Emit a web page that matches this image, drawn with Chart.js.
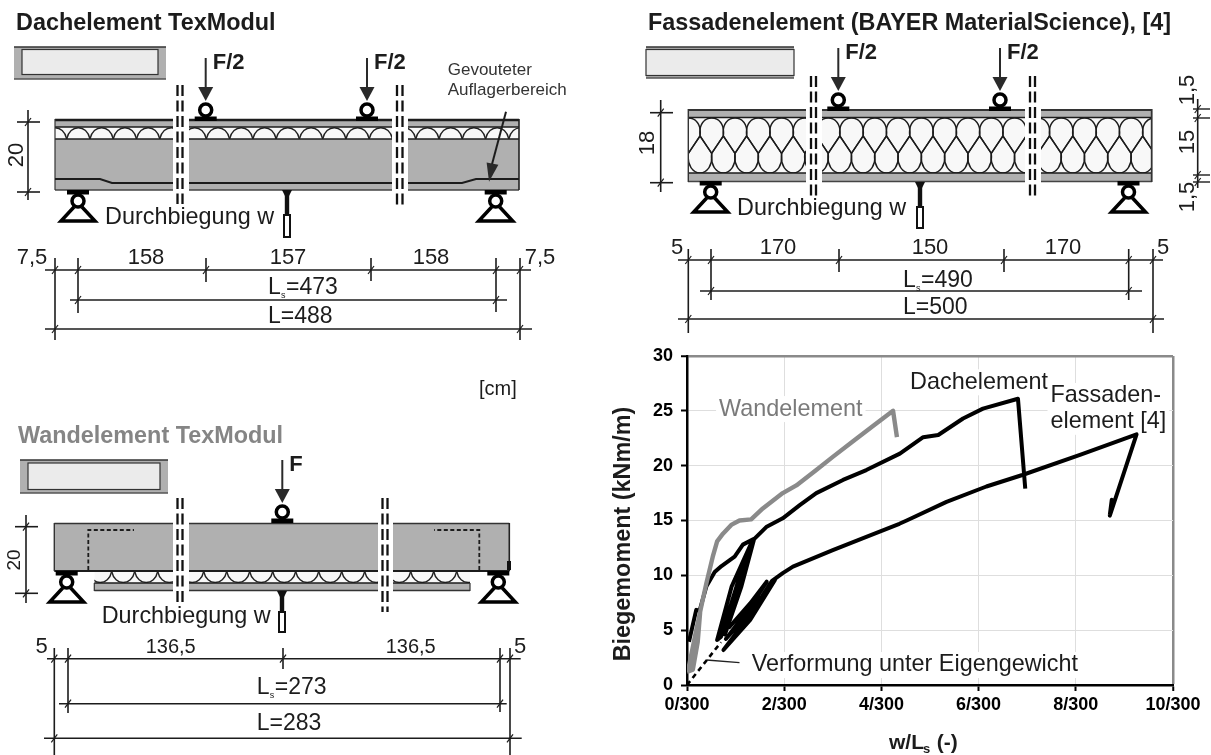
<!DOCTYPE html>
<html>
<head>
<meta charset="utf-8">
<title>Biegemoment</title>
<script src="https://cdn.jsdelivr.net/npm/chart.js@4/dist/chart.umd.min.js"></script>
<style>
  html, body { margin: 0; padding: 0; background: #fff; }
  canvas { display: block; }
</style>
</head>
<body>
<canvas id="chart" width="1211" height="755"></canvas>
<script>
// Curves: x in n/300, y in kNm/m. The back-and-forth runs are the unload/reload loops.
const wandX = [0, 0.12, 0.22, 0.27, 0.12, 0.03, 0.19, 0.33, 0.40, 0.53, 0.62, 0.74, 0.91, 1.08, 1.32, 1.56, 1.97, 2.25, 2.66, 3.00, 3.41, 3.82, 4.24, 4.32];
const wandY = [1.2, 1.4, 3.9, 6.6, 3.2, 1.5, 5.0, 7.9, 9.3, 11.7, 13.1, 13.8, 14.6, 15.0, 15.1, 16.1, 17.5, 18.2, 19.6, 20.8, 22.2, 23.6, 25.0, 22.6];

const dachX = [0.04, 0.19, 0.26, 0.40, 0.57, 0.71, 0.98, 1.15, 1.36, 0.92, 0.62, 0.70, 1.02, 1.36, 0.78, 1.12, 1.38, 1.63, 1.97, 2.32, 2.66, 3.21, 3.69, 4.38, 4.86, 5.17, 5.68, 6.09, 6.81, 6.96];
const dachY = [3.95, 6.85, 6.8, 9.0, 10.3, 10.85, 11.7, 12.8, 13.3, 9.0, 4.1, 4.4, 9.0, 13.2, 4.6, 9.0, 13.3, 14.4, 15.2, 16.4, 17.5, 18.7, 19.6, 21.1, 22.6, 22.8, 24.3, 25.2, 26.1, 17.9];

const fassadeX = [0.85, 1.30, 1.64, 1.30, 0.80, 1.30, 1.81, 1.30, 0.75, 1.30, 1.75, 1.97, 2.18, 3.00, 3.69, 4.37, 4.52, 5.34, 6.16, 6.90, 8.10, 9.25, 8.70, 8.74, 8.70];
const fassadeY = [5.17, 7.44, 9.42, 7.1, 4.2, 6.7, 9.57, 5.93, 3.19, 6.4, 9.5, 10.2, 10.8, 12.3, 13.5, 14.7, 15.0, 16.7, 18.1, 19.15, 21.0, 22.85, 15.44, 16.9, 15.5];

const eigenX = [0, 0.70];
const eigenY = [0, 3.9];
const leaderX = [0.40, 1.08];
const leaderY = [2.28, 2.04];

const xTickLabels = ["0/300", "2/300", "4/300", "6/300", "8/300", "10/300"];
const yTickLabels = ["0", "5", "10", "15", "20", "25", "30"];

const FONT = '"Liberation Sans", Arial, sans-serif';
const INK = "#1c1c1c";
const GREY = "#b0b0b0";

function txt(ctx, str, x, y, size, opts) {
  opts = opts || {};
  ctx.save();
  ctx.font = (opts.bold ? "bold " : "") + size + "px " + FONT;
  ctx.fillStyle = opts.color || INK;
  ctx.textAlign = opts.align || "left";
  ctx.textBaseline = "middle";
  ctx.translate(x, y);
  if (opts.rot) ctx.rotate(opts.rot);
  ctx.fillText(str, 0, 0);
  ctx.restore();
}

function line(ctx, x1, y1, x2, y2, w, color) {
  ctx.strokeStyle = color || INK;
  ctx.lineWidth = w || 1.5;
  ctx.beginPath();
  ctx.moveTo(x1, y1);
  ctx.lineTo(x2, y2);
  ctx.stroke();
}

// text "L" with a small s, then the value
function lsLabel(ctx, x, y, value) {
  txt(ctx, "L", x, y, 23);
  txt(ctx, "s", x + 13, y + 8, 9);
  txt(ctx, value, x + 18, y, 23);
}

function slash(ctx, x, y) {
  line(ctx, x - 3, y + 4, x + 3, y - 4, 1.2);
}

function dimRow(ctx, y, x1, x2, marks) {
  line(ctx, x1, y, x2, y, 1.5);
  marks.forEach(m => slash(ctx, m, y));
}

function vDim(ctx, x, y1, y2) {
  line(ctx, x, y1, x, y2, 1.6);
}

function arrowHead(ctx, xTip, yTip, dx, dy, halfW) {
  const len = Math.hypot(dx, dy);
  const nx = -dy / len, ny = dx / len;
  ctx.fillStyle = "#2a2a2a";
  ctx.beginPath();
  ctx.moveTo(xTip, yTip);
  ctx.lineTo(xTip + dx + nx * halfW, yTip + dy + ny * halfW);
  ctx.lineTo(xTip + dx - nx * halfW, yTip + dy - ny * halfW);
  ctx.closePath();
  ctx.fill();
}

function loadArrow(ctx, x, yTop, yPlate, label) {
  line(ctx, x, yTop, x, yTop + 32, 2, "#2a2a2a");
  arrowHead(ctx, x, yTop + 43, 0, -14, 7.5);
  ctx.strokeStyle = "#000";
  ctx.lineWidth = 3.5;
  ctx.beginPath();
  ctx.arc(x, yPlate - 11, 6, 0, Math.PI * 2);
  ctx.stroke();
  ctx.fillStyle = "#000";
  ctx.fillRect(x - 11, yPlate - 4.5, 22, 4.5);
  txt(ctx, label, x + 7, yTop + 5, 22, { bold: true });
}

function support(ctx, x, yPlate) {
  ctx.fillStyle = "#000";
  ctx.fillRect(x - 11, yPlate, 22, 4.5);
  ctx.strokeStyle = "#000";
  ctx.lineWidth = 3.5;
  ctx.beginPath();
  ctx.arc(x, yPlate + 11, 6, 0, Math.PI * 2);
  ctx.stroke();
  ctx.lineJoin = "miter";
  ctx.beginPath();
  ctx.moveTo(x - 4, yPlate + 17);
  ctx.lineTo(x - 17, yPlate + 31);
  ctx.lineTo(x + 17, yPlate + 31);
  ctx.lineTo(x + 4, yPlate + 17);
  ctx.stroke();
}

function gauge(ctx, x, yTop, yRect, yEnd) {
  ctx.fillStyle = "#111";
  ctx.beginPath();
  ctx.moveTo(x - 5, yTop);
  ctx.lineTo(x + 5, yTop);
  ctx.lineTo(x + 2, yTop + 6);
  ctx.lineTo(x - 2, yTop + 6);
  ctx.closePath();
  ctx.fill();
  ctx.fillRect(x - 2.2, yTop + 4, 4.4, yRect - yTop - 4);
  ctx.strokeStyle = "#111";
  ctx.lineWidth = 2;
  ctx.strokeRect(x - 3, yRect, 6, yEnd - yRect);
}

function breakBand(ctx, x1, x2, dashA, dashB, yTop, yEnd, yBandTop, yBandEnd) {
  ctx.fillStyle = "#fff";
  ctx.fillRect(x1, yBandTop, x2 - x1, yBandEnd - yBandTop);
  ctx.save();
  ctx.setLineDash([11, 4.5]);
  line(ctx, dashA, yTop, dashA, yEnd, 2.3, "#111");
  line(ctx, dashB, yTop, dashB, yEnd, 2.3, "#111");
  ctx.restore();
}

function scallops(ctx, xStart, xEnd, cusp, yTop, yBottom, period, up) {
  ctx.save();
  ctx.beginPath();
  ctx.rect(xStart, yTop, xEnd - xStart, yBottom - yTop);
  ctx.clip();
  ctx.fillStyle = "#f8f8f8";
  ctx.fillRect(xStart, yTop, xEnd - xStart, yBottom - yTop);
  ctx.strokeStyle = "#222";
  ctx.lineWidth = 1.4;
  for (let c = cusp; c < xEnd; c += period) {
    ctx.beginPath();
    if (up) {
      ctx.moveTo(c, yBottom);
      ctx.bezierCurveTo(c + 3, yTop - 3, c + period - 3, yTop - 3, c + period, yBottom);
    } else {
      ctx.moveTo(c, yTop);
      ctx.bezierCurveTo(c + 3, yBottom + 3, c + period - 3, yBottom + 3, c + period, yTop);
    }
    ctx.stroke();
  }
  ctx.restore();
}

function teardrops(ctx, xStart, xEnd, yTop, yBottom, yApexUp, yApexDown, cxUp, cxDown, period) {
  const h = period / 2;
  ctx.save();
  ctx.beginPath();
  ctx.rect(xStart, yTop, xEnd - xStart, yBottom - yTop);
  ctx.clip();
  ctx.fillStyle = "#f8f8f8";
  ctx.fillRect(xStart, yTop, xEnd - xStart, yBottom - yTop);
  ctx.strokeStyle = "#1c1c1c";
  ctx.lineWidth = 1.4;
  for (let c = cxUp; c < xEnd + period; c += period) {
    ctx.beginPath();
    ctx.moveTo(c, yApexDown);
    ctx.bezierCurveTo(c - 3.9, yApexDown - 5.8, c - 7.8, yApexUp + 5.8, c - h, yApexUp);
    ctx.bezierCurveTo(c - h - 1.5, yApexUp - 12, c - 7, yTop, c, yTop);
    ctx.bezierCurveTo(c + 7, yTop, c + h + 1.5, yApexUp - 12, c + h, yApexUp);
    ctx.bezierCurveTo(c + 7.8, yApexUp + 5.8, c + 3.9, yApexDown - 5.8, c, yApexDown);
    ctx.stroke();
  }
  for (let c = cxDown; c < xEnd + period; c += period) {
    ctx.beginPath();
    ctx.moveTo(c, yApexUp);
    ctx.bezierCurveTo(c - 3.9, yApexUp + 5.8, c - 7.8, yApexDown - 5.8, c - h, yApexDown);
    ctx.bezierCurveTo(c - h - 1.5, yBottom - 8, c - 7, yBottom, c, yBottom);
    ctx.bezierCurveTo(c + 7, yBottom, c + h + 1.5, yBottom - 8, c + h, yApexDown);
    ctx.bezierCurveTo(c + 7.8, yApexDown - 5.8, c + 3.9, yApexUp + 5.8, c, yApexUp);
    ctx.stroke();
  }
  ctx.restore();
}

function crossSection(ctx, x, y, w, h, topBand, bottomBand, side) {
  ctx.fillStyle = "#ebebeb";
  ctx.fillRect(x, y, w, h);
  ctx.fillStyle = GREY;
  ctx.fillRect(x, y, w, topBand);
  ctx.fillRect(x, y + h - bottomBand, w, bottomBand);
  if (side) {
    ctx.fillRect(x, y, side, h);
    ctx.fillRect(x + w - side, y, side, h);
  }
  ctx.strokeStyle = "#333";
  ctx.lineWidth = 1.2;
  ctx.strokeRect(x + side, y + topBand, w - 2 * side, h - topBand - bottomBand);
  line(ctx, x, y, x + w, y, 1.4, "#333");
  line(ctx, x, y + h, x + w, y + h, 1.4, "#555");
}

function drawDach(ctx) {
  txt(ctx, "Dachelement TexModul", 16, 24, 23.4, { bold: true });
  crossSection(ctx, 14, 47, 152, 32, 2.5, 4.5, 8);

  ctx.fillStyle = GREY;
  ctx.fillRect(55, 119, 464, 71);
  scallops(ctx, 55, 519, 66.7 - 23.27, 127, 139, 23.27, true);
  line(ctx, 55, 120, 519, 120, 2.4);
  line(ctx, 55, 127, 519, 127, 1.4);
  line(ctx, 55, 139, 519, 139, 1.6);
  line(ctx, 55, 190, 519, 190, 1.4, "#444");
  line(ctx, 55, 119, 55, 190, 1.2, "#333");
  line(ctx, 519, 119, 519, 190, 1.6, "#222");
  ctx.strokeStyle = INK;
  ctx.lineWidth = 2;
  ctx.beginPath();
  ctx.moveTo(55, 179);
  ctx.lineTo(100, 179);
  ctx.lineTo(112, 183);
  ctx.lineTo(462, 183);
  ctx.lineTo(476, 179);
  ctx.lineTo(519, 179);
  ctx.stroke();

  breakBand(ctx, 173, 189, 177.5, 182.5, 85, 204, 117, 193);
  breakBand(ctx, 392, 408, 397, 402.5, 85, 205, 117, 193);

  loadArrow(ctx, 205.7, 58, 121, "F/2");
  loadArrow(ctx, 367, 58, 121, "F/2");
  support(ctx, 78, 190);
  support(ctx, 495.7, 190);
  gauge(ctx, 287, 190, 215, 237);
  txt(ctx, "Durchbiegung w", 105, 218, 23.4);

  txt(ctx, "Gevouteter", 447.7, 70.7, 17, { color: "#333" });
  txt(ctx, "Auflagerbereich", 447.7, 90.7, 17, { color: "#333" });
  line(ctx, 506, 111.7, 491, 168, 2);
  arrowHead(ctx, 489, 181.7, 3.5, -18, 6);

  // dimensions
  line(ctx, 28, 110, 28, 200, 1.6);
  line(ctx, 17, 122, 40, 122, 1.6);
  line(ctx, 17, 192, 40, 192, 1.6);
  slash(ctx, 28, 122);
  slash(ctx, 28, 192);
  txt(ctx, "20", 17, 155, 22, { align: "center", rot: -Math.PI / 2 });

  vDim(ctx, 55, 258, 340);
  vDim(ctx, 78, 258, 313);
  vDim(ctx, 206, 258, 282);
  vDim(ctx, 371, 258, 281);
  vDim(ctx, 496, 258, 312);
  vDim(ctx, 520, 258, 340);
  dimRow(ctx, 270, 45, 531, [55, 78, 206, 371, 496, 520]);
  dimRow(ctx, 300, 70, 507, [78, 496]);
  dimRow(ctx, 329, 45, 532, [55, 520]);

  txt(ctx, "7,5", 32, 258, 22, { align: "center" });
  txt(ctx, "158", 146, 258, 22, { align: "center" });
  txt(ctx, "157", 288, 258, 22, { align: "center" });
  txt(ctx, "158", 431, 258, 22, { align: "center" });
  txt(ctx, "7,5", 540, 258, 22, { align: "center" });
  lsLabel(ctx, 268, 288, "=473");
  txt(ctx, "L=488", 268, 317, 23);
  txt(ctx, "[cm]", 479, 389, 20);
}

function drawFassade(ctx) {
  txt(ctx, "Fassadenelement (BAYER MaterialScience), [4]", 648, 24, 23.4, { bold: true });
  crossSection(ctx, 646, 47, 148, 31, 2.5, 2.5, 0);

  ctx.fillStyle = GREY;
  ctx.fillRect(688, 109, 464, 73);
  teardrops(ctx, 688, 1152, 118, 173, 136, 153.3, 688.4, 700, 23.3);
  line(ctx, 688, 110, 1152, 110, 1.8, "#333");
  line(ctx, 688, 117.5, 1152, 117.5, 1.4);
  line(ctx, 688, 173, 1152, 173, 1.6);
  line(ctx, 688, 181.5, 1152, 181.5, 1.4, "#444");
  line(ctx, 688.3, 109, 688.3, 182, 1.4, "#333");
  line(ctx, 1151.7, 109, 1151.7, 182, 1.8, "#333");

  breakBand(ctx, 806, 822, 811, 816, 76, 196, 107, 184);
  breakBand(ctx, 1025, 1041, 1030, 1035, 76, 196, 107, 184);

  loadArrow(ctx, 838.3, 48, 111, "F/2");
  loadArrow(ctx, 1000, 48, 111, "F/2");
  support(ctx, 710.7, 181);
  support(ctx, 1128.5, 181);
  gauge(ctx, 920, 182, 207, 228);
  txt(ctx, "Durchbiegung w", 737, 209, 23.4);

  // dimensions
  line(ctx, 660.7, 100, 660.7, 192, 1.6);
  line(ctx, 650, 112.7, 673, 112.7, 1.6);
  line(ctx, 650, 182.7, 673, 182.7, 1.6);
  slash(ctx, 660.7, 112.7);
  slash(ctx, 660.7, 182.7);
  txt(ctx, "18", 648, 143, 22, { align: "center", rot: -Math.PI / 2 });

  line(ctx, 1197.7, 99, 1197.7, 188, 1.6);
  [109, 118, 175, 182].forEach(y => {
    line(ctx, 1193, y, 1210, y, 1.4);
    slash(ctx, 1197.7, y);
  });
  txt(ctx, "1,5", 1188, 90, 22, { align: "center", rot: -Math.PI / 2 });
  txt(ctx, "15", 1188, 142, 22, { align: "center", rot: -Math.PI / 2 });
  txt(ctx, "1,5", 1188, 197, 22, { align: "center", rot: -Math.PI / 2 });

  vDim(ctx, 688.3, 249, 333);
  vDim(ctx, 711, 249, 300);
  vDim(ctx, 839, 249, 272);
  vDim(ctx, 1004, 249, 272);
  vDim(ctx, 1128.7, 249, 300);
  vDim(ctx, 1153, 249, 333);
  dimRow(ctx, 260, 678, 1163, [688.3, 711, 839, 1004, 1128.7, 1153]);
  dimRow(ctx, 291, 700, 1142, [711, 1128.7]);
  dimRow(ctx, 319, 678, 1164, [688.3, 1153]);

  txt(ctx, "5", 677, 248, 22, { align: "center" });
  txt(ctx, "170", 778, 248, 22, { align: "center" });
  txt(ctx, "150", 930, 248, 22, { align: "center" });
  txt(ctx, "170", 1063, 248, 22, { align: "center" });
  txt(ctx, "5", 1163, 248, 22, { align: "center" });
  lsLabel(ctx, 903, 281, "=490");
  txt(ctx, "L=500", 903, 308, 23);
}

function drawWand(ctx) {
  txt(ctx, "Wandelement TexModul", 18, 437, 23.4, { bold: true, color: "#858585" });
  crossSection(ctx, 20, 460, 148, 33, 3, 3.5, 8);

  ctx.fillStyle = GREY;
  ctx.fillRect(54.3, 523, 455, 48);
  ctx.fillRect(94.3, 583, 375.7, 8);
  scallops(ctx, 94.3, 470, 111.7 - 23, 571.5, 583, 23, false);
  line(ctx, 54.3, 523.5, 509.3, 523.5, 1.4, "#333");
  line(ctx, 54.3, 571, 509.3, 571, 2);
  line(ctx, 94.3, 583, 470, 583, 1.4);
  line(ctx, 94.3, 590.5, 470, 590.5, 1.4, "#333");
  line(ctx, 94.3, 583, 94.3, 591, 1.2, "#333");
  line(ctx, 470, 583, 470, 591, 1.2, "#333");
  line(ctx, 54.3, 523, 54.3, 571, 1.4, "#333");
  line(ctx, 509.3, 523, 509.3, 571, 1.6, "#222");
  ctx.fillStyle = "#111";
  ctx.fillRect(507, 561, 4, 9);

  ctx.save();
  ctx.setLineDash([4, 2.5]);
  ctx.strokeStyle = INK;
  ctx.lineWidth = 1.8;
  ctx.beginPath();
  ctx.moveTo(88.3, 570);
  ctx.lineTo(88.3, 530);
  ctx.lineTo(134, 530);
  ctx.moveTo(479.3, 570);
  ctx.lineTo(479.3, 530);
  ctx.lineTo(434, 530);
  ctx.stroke();
  ctx.restore();

  breakBand(ctx, 173, 189, 177.5, 182.5, 498, 603, 521, 593);
  breakBand(ctx, 378, 393, 382.5, 387.5, 498, 612, 521, 593);

  loadArrow(ctx, 282.3, 460, 523, "F");
  support(ctx, 66.7, 571);
  support(ctx, 498.3, 571);
  gauge(ctx, 282, 591, 612, 632);
  txt(ctx, "Durchbiegung w", 101.7, 617, 23.4);

  // dimensions
  line(ctx, 26, 515, 26, 603, 1.6);
  line(ctx, 15, 526.7, 38, 526.7, 1.6);
  line(ctx, 15, 593.3, 38, 593.3, 1.6);
  slash(ctx, 26, 526.7);
  slash(ctx, 26, 593.3);
  txt(ctx, "20", 15, 560, 19, { align: "center", rot: -Math.PI / 2 });

  vDim(ctx, 54.3, 648, 755);
  vDim(ctx, 68, 648, 713);
  vDim(ctx, 283, 648, 669);
  vDim(ctx, 500, 648, 712);
  vDim(ctx, 510, 648, 755);
  dimRow(ctx, 658.7, 47, 520.7, [54.3, 68, 283, 500, 510]);
  dimRow(ctx, 703.7, 59, 506.7, [68, 500]);
  dimRow(ctx, 738.3, 44, 521.7, [54.3, 510]);

  txt(ctx, "5", 41.7, 647, 22, { align: "center" });
  txt(ctx, "136,5", 170.7, 647, 20, { align: "center" });
  txt(ctx, "136,5", 410.7, 647, 20, { align: "center" });
  txt(ctx, "5", 520, 647, 22, { align: "center" });
  lsLabel(ctx, 256.7, 688, "=273");
  txt(ctx, "L=283", 256.7, 724, 23);
}

// curve labels sit on white boxes that knock out the grid, placed in data units
function curveLabel(ctx, chart, str, xv, yv, color) {
  const x = chart.scales.x.getPixelForValue(xv);
  const y = chart.scales.y.getPixelForValue(yv);
  ctx.save();
  ctx.font = "23.4px " + FONT;
  const w = ctx.measureText(str).width;
  ctx.fillStyle = "#fff";
  ctx.fillRect(x - 3, y - 13, w + 6, 26);
  ctx.restore();
  txt(ctx, str, x, y, 23.4, { color: color });
}

const figurePlugin = {
  id: "figure",
  beforeDatasetsDraw(chart) {
    const ctx = chart.ctx;
    curveLabel(ctx, chart, "Wandelement", 0.66, 25.16, "#7a7a7a");
    curveLabel(ctx, chart, "Dachelement", 4.59, 27.6);
    curveLabel(ctx, chart, "Fassaden-", 7.48, 26.35);
    curveLabel(ctx, chart, "element [4]", 7.48, 24.0);
    curveLabel(ctx, chart, "Verformung unter Eigengewicht", 1.33, 1.82);
  },
  afterDraw(chart) {
    const ctx = chart.ctx;
    drawDach(ctx);
    drawFassade(ctx);
    drawWand(ctx);

    // axis titles
    txt(ctx, "Biegemoment (kNm/m)", 624, 534, 23.4, { bold: true, align: "center", rot: -Math.PI / 2 });
    txt(ctx, "w/L", 889, 743, 21, { bold: true });
    txt(ctx, "s", 923, 749, 13, { bold: true });
    txt(ctx, " (-)", 931, 743, 21, { bold: true });
  }
};

function curve(x, y, color, width, dash) {
  return {
    data: x.map((v, i) => ({ x: v, y: y[i] })),
    showLine: true,
    borderColor: color,
    borderWidth: width,
    borderDash: dash || [],
    borderJoinStyle: "round",
    borderCapStyle: "butt",
    tension: 0,
    pointRadius: 0
  };
}

new Chart(document.getElementById("chart"), {
  type: "scatter",
  data: {
    datasets: [
      curve(wandX, wandY, "#8a8a8a", 4.4),
      curve(dachX, dachY, "#000", 4),
      curve(fassadeX, fassadeY, "#000", 4),
      curve(eigenX, eigenY, "#000", 2.6, [5, 4]),
      curve(leaderX, leaderY, "#222", 1.3)
    ]
  },
  plugins: [figurePlugin],
  options: {
    responsive: false,
    animation: false,
    events: [],
    layout: { padding: { left: 600, top: 356, right: 38, bottom: 30 } },
    plugins: { legend: { display: false }, title: { display: false }, tooltip: { enabled: false } },
    scales: {
      x: {
        type: "linear",
        min: 0,
        max: 10,
        afterFit(s) { s.height = 40; },
        afterBuildTicks(s) { s.ticks = xTickLabels.map((_, i) => ({ value: i * 2 })); },
        border: { color: "#000", width: 2.5 },
        grid: {
          color: c => (c.tick && c.tick.value === 10 ? "#8a8a8a" : "#dedede"),
          lineWidth: c => (c.tick && c.tick.value === 10 ? 2.5 : 1),
          tickColor: "#000",
          tickLength: 6,
          tickWidth: 2
        },
        ticks: {
          autoSkip: false,
          maxRotation: 0,
          padding: 3,
          color: "#000",
          font: { family: FONT, size: 18, weight: "bold" },
          callback: (v) => xTickLabels[v / 2]
        }
      },
      y: {
        type: "linear",
        min: 0,
        max: 30,
        afterFit(s) { s.width = 87; },
        afterBuildTicks(s) { s.ticks = yTickLabels.map((_, i) => ({ value: i * 5 })); },
        border: { color: "#000", width: 2.5 },
        grid: {
          color: c => (c.tick && c.tick.value === 30 ? "#8a8a8a" : "#dedede"),
          lineWidth: c => (c.tick && c.tick.value === 30 ? 2.5 : 1),
          tickColor: "#000",
          tickLength: 6,
          tickWidth: 2
        },
        ticks: {
          autoSkip: false,
          padding: 8,
          color: "#000",
          font: { family: FONT, size: 18, weight: "bold" },
          callback: (v) => yTickLabels[v / 5]
        }
      }
    }
  }
});
</script>
</body>
</html>
